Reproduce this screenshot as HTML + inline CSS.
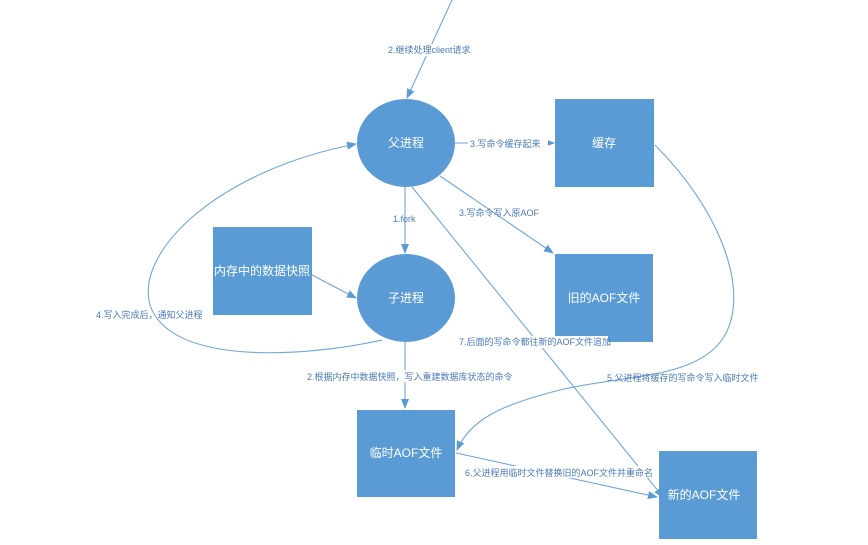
<!DOCTYPE html>
<html><head><meta charset="utf-8"><style>
html,body{margin:0;padding:0;background:#fff;width:868px;height:545px;overflow:hidden}
svg text{font-family:"Liberation Sans","Noto Sans CJK SC",sans-serif}
.n{fill:#fff;font-size:12px;text-anchor:middle;dominant-baseline:middle}
.l{fill:#4a7ab8;font-size:9px}
</style></head><body>
<svg width="868" height="545" viewBox="0 0 868 545" xmlns="http://www.w3.org/2000/svg">
<defs><marker id="a" markerWidth="10" markerHeight="8" refX="9" refY="4" orient="auto" markerUnits="userSpaceOnUse"><path d="M0,0 L10,4 L0,8 z" fill="#5b9bd5"/></marker></defs>
<g fill="none" stroke="#6fa6da" stroke-width="1.1">
<line x1="452" y1="0" x2="407" y2="98" marker-end="url(#a)"/>
<line x1="455" y1="143" x2="554" y2="143" marker-end="url(#a)"/>
<line x1="405" y1="187" x2="405" y2="253" marker-end="url(#a)"/>
<line x1="440" y1="176" x2="553" y2="253" marker-end="url(#a)"/>
<line x1="412" y1="187" x2="663" y2="497" marker-end="url(#a)"/>
<line x1="312" y1="275" x2="356" y2="298" marker-end="url(#a)"/>
<line x1="405" y1="341" x2="405" y2="408" marker-end="url(#a)"/>
<line x1="456" y1="453" x2="657" y2="497" marker-end="url(#a)"/>
<path d="M382,340 C300,358 170,365 150,305 C135,250 220,170 356,144" marker-end="url(#a)"/>
<path d="M655,145 C720,210 750,290 725,335 C700,380 620,375 560,390 C500,405 470,420 457,450" marker-end="url(#a)"/>
</g>
<rect x="345" y="44" width="130" height="12" fill="#fff"/>
<text class="l" x="388" y="53">2.继续处理client请求</text>
<rect x="468" y="137" width="80" height="12" fill="#fff"/>
<text class="l" x="470" y="147">3.写命令缓存起来</text>
<text class="l" x="393" y="222">1.fork</text>
<text class="l" x="459" y="216">3.写命令写入原AOF</text>
<text class="l" x="96" y="318">4.写入完成后，通知父进程</text>
<g fill="#5b9bd5">
<ellipse cx="406" cy="143" rx="49" ry="44"/>
<ellipse cx="406" cy="298" rx="49" ry="44"/>
<rect x="555" y="99" width="99" height="88"/>
<rect x="555" y="254" width="98" height="88"/>
<rect x="213" y="227" width="99" height="88"/>
<rect x="357" y="410" width="98" height="87"/>
<rect x="659" y="451" width="98" height="88"/>
</g>
<rect x="456" y="336" width="152" height="12" fill="#fff"/>
<text class="l" x="459" y="345">7.后面的写命令都往新的AOF文件追加</text>
<rect x="305" y="370" width="200" height="12" fill="#fff"/>
<text class="l" x="307" y="380">2.根据内存中数据快照，写入重建数据库状态的命令</text>
<text class="l" x="607" y="381">5.父进程将缓存的写命令写入临时文件</text>
<rect x="464" y="466" width="195" height="12" fill="#fff"/>
<text class="l" x="465" y="476">6.父进程用临时文件替换旧的AOF文件并重命名</text>
<text class="n" x="406" y="144">父进程</text>
<text class="n" x="406" y="299">子进程</text>
<text class="n" x="604" y="144">缓存</text>
<text class="n" x="604" y="299">旧的AOF文件</text>
<text class="n" x="262" y="272">内存中的数据快照</text>
<text class="n" x="406" y="454">临时AOF文件</text>
<text class="n" x="704" y="496">新的AOF文件</text>
</svg>
</body></html>
